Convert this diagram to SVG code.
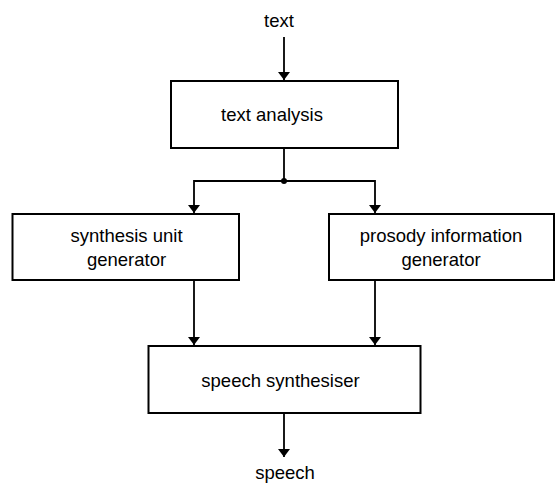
<svg xmlns="http://www.w3.org/2000/svg" width="555" height="484" viewBox="0 0 555 484">
  <style>
    .box { fill: #ffffff; stroke: #000000; stroke-width: 2; }
    .wire { fill: none; stroke: #000000; stroke-width: 1.8; }
    .lbl { font-family: "Liberation Sans", Arial, Helvetica, sans-serif; font-size: 18.5px; fill: #000000; text-anchor: middle; }
  </style>
  <defs>
    <marker id="arrow" viewBox="0 0 8 12" refX="8" refY="6" markerWidth="8" markerHeight="12" markerUnits="userSpaceOnUse" orient="auto">
      <path d="M0,0 L8,6 L0,12 Z" fill="#000000" transform="rotate(0)"/>
    </marker>
  </defs>
  <rect width="555" height="484" fill="#ffffff"/>

  <!-- connectors -->
  <g id="connectors">
    <path class="wire" d="M284,37 L284,80" marker-end="url(#arrow)"/>
    <path class="wire" d="M284,148 L284,181"/>
    <path class="wire" d="M284,181 L194,181 L194,213" marker-end="url(#arrow)"/>
    <path class="wire" d="M284,181 L375,181 L375,213" marker-end="url(#arrow)"/>
    <circle cx="284" cy="181" r="3" fill="#000000"/>
    <path class="wire" d="M194,281 L194,345" marker-end="url(#arrow)"/>
    <path class="wire" d="M375,281 L375,345" marker-end="url(#arrow)"/>
    <path class="wire" d="M284,414 L284,457" marker-end="url(#arrow)"/>
  </g>

  <!-- terminals -->
  <text id="input" class="lbl" x="279" y="26.5">text</text>
  <text id="output" class="lbl" x="285" y="478.5">speech</text>

  <g id="text-analysis">
    <rect class="box" x="171" y="81" width="227" height="67"/>
    <text class="lbl" x="272" y="120.5">text analysis</text>
  </g>

  <g id="synthesis-unit-generator">
    <rect class="box" x="12.5" y="214" width="226.5" height="66"/>
    <text class="lbl" x="126.5" y="242">synthesis unit</text>
    <text class="lbl" x="126.5" y="266">generator</text>
  </g>

  <g id="prosody-information-generator">
    <rect class="box" x="329" y="214" width="225" height="66"/>
    <text class="lbl" x="441" y="242">prosody information</text>
    <text class="lbl" x="441" y="266">generator</text>
  </g>

  <g id="speech-synthesiser">
    <rect class="box" x="148.5" y="346" width="272" height="67"/>
    <text class="lbl" x="280.5" y="387">speech synthesiser</text>
  </g>
</svg>
